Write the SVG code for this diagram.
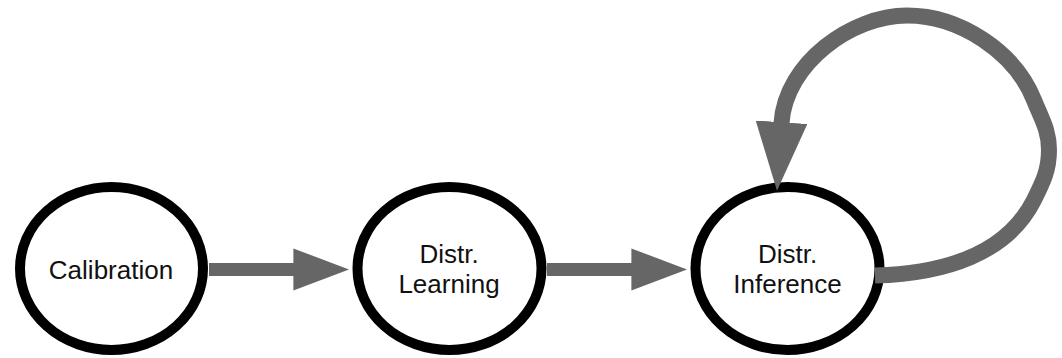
<svg xmlns="http://www.w3.org/2000/svg" width="1062" height="358" viewBox="0 0 1062 358">
  <style>
    .node ellipse { fill: #ffffff; stroke: #000000; stroke-width: 10; }
    .node text { font-family: "Liberation Sans", Arial, Helvetica, sans-serif; font-size: 26px; fill: #111111; text-anchor: middle; }
    .edge { fill: none; stroke: #666666; stroke-linecap: butt; }
  </style>
  <defs>
    <!-- arrowhead scales with the connector's stroke width -->
    <marker id="head" viewBox="0 0 4.3 3.24" refX="0.05" refY="1.62" markerWidth="4.3" markerHeight="3.24" orient="auto" markerUnits="strokeWidth">
      <path d="M0,0 L4.3,1.62 L0,3.24 z" fill="#666666"/>
    </marker>
  </defs>

  <g id="node-calibration" class="node">
    <ellipse cx="111.5" cy="268.5" rx="91.5" ry="81.5"/>
    <text x="111" y="279">Calibration</text>
  </g>

  <g id="node-distr-learning" class="node">
    <ellipse cx="449.5" cy="268.5" rx="92" ry="81.5"/>
    <text x="449" y="263">Distr.</text>
    <text x="449" y="293">Learning</text>
  </g>

  <g id="node-distr-inference" class="node">
    <ellipse cx="787.5" cy="268.5" rx="92" ry="81.5"/>
    <text x="787.5" y="263">Distr.</text>
    <text x="787.5" y="293">Inference</text>
  </g>

  <g id="connectors">
    <path class="edge" stroke-width="13" d="M209 269.5 L294 269.5" marker-end="url(#head)"/>
    <path class="edge" stroke-width="13" d="M547 269.5 L632 269.5" marker-end="url(#head)"/>
    <!-- self loop on Distr. Inference -->
    <path class="edge" stroke-width="16" marker-end="url(#head)"
          d="M875 275.5 C945 273.5 1007 253.6 1034 200 C1043 182 1049 170 1049 150 C1049 130 1041.4 118.6 1034 100 C1015 52 960 15.5 907 15.5 C852 15.5 785.5 63 781.5 123"/>
  </g>
</svg>
